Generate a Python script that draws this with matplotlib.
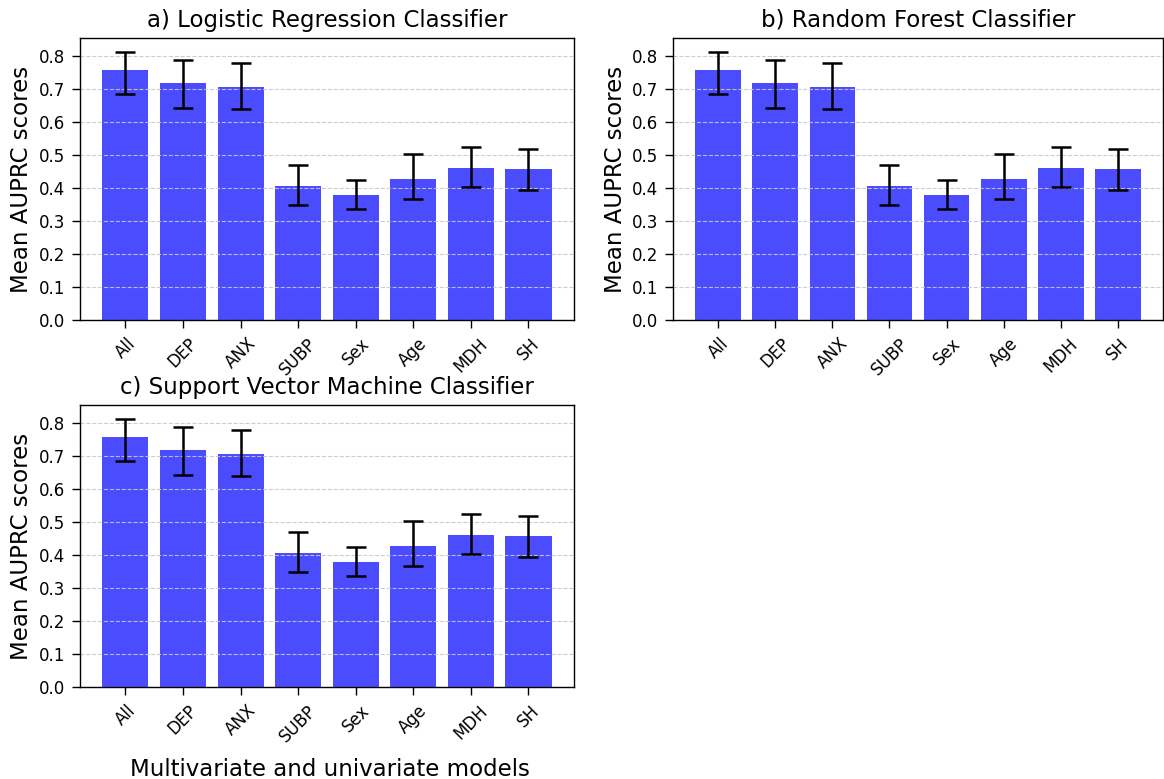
import numpy as np
import matplotlib
matplotlib.use('Agg')
from matplotlib import pyplot as plt

models = ['All', 'DEP', 'ANX', 'SUBP', 'Sex', 'Age', 'MDH', 'SH']
mean_auprc = [0.759, 0.718, 0.706, 0.405, 0.378, 0.429, 0.460, 0.458]
err_low = [0.073, 0.075, 0.067, 0.057, 0.040, 0.061, 0.056, 0.065]
err_high = [0.055, 0.071, 0.073, 0.066, 0.045, 0.075, 0.064, 0.059]

titles = ['a) Logistic Regression Classifier',
          'b) Random Forest Classifier',
          'c) Support Vector Machine Classifier']

# axes boxes in figure fractions [left, bottom, width, height]
boxes = [[0.0687, 0.5892, 0.4244, 0.3620],
         [0.5782, 0.5892, 0.4210, 0.3620],
         [0.0687, 0.1181, 0.4244, 0.3620]]

fig = plt.figure(figsize=(11.64, 7.79), dpi=100)

for i in range(3):
    ax = fig.add_axes(boxes[i])
    x = np.arange(len(models))
    ax.bar(x, mean_auprc, width=0.8, color='blue', alpha=0.7,
           yerr=[err_low, err_high], capsize=7,
           error_kw={'elinewidth': 1.8, 'capthick': 1.8, 'ecolor': 'black'})
    ax.set_xticks(x)
    ax.set_xticklabels(models, rotation=45, fontsize=12)
    ax.tick_params(axis='y', labelsize=12)
    ax.tick_params(length=5.5, width=1, pad=5)
    for s in ax.spines.values():
        s.set_linewidth(1)
    ax.set_ylim(0, 0.855)
    ax.set_yticks(np.arange(0, 0.81, 0.1))
    ax.yaxis.grid(True, linestyle='--', color='#c8c8c8', alpha=0.9)
    ax.set_title(titles[i], fontsize=16.5, pad=8)
    ax.set_ylabel('Mean AUPRC scores', fontsize=16.5)

fig.text(330 / 1164, 1 - 776 / 779, 'Multivariate and univariate models',
         ha='center', va='baseline', fontsize=16.5)

fig.savefig('out.png', dpi=100)
